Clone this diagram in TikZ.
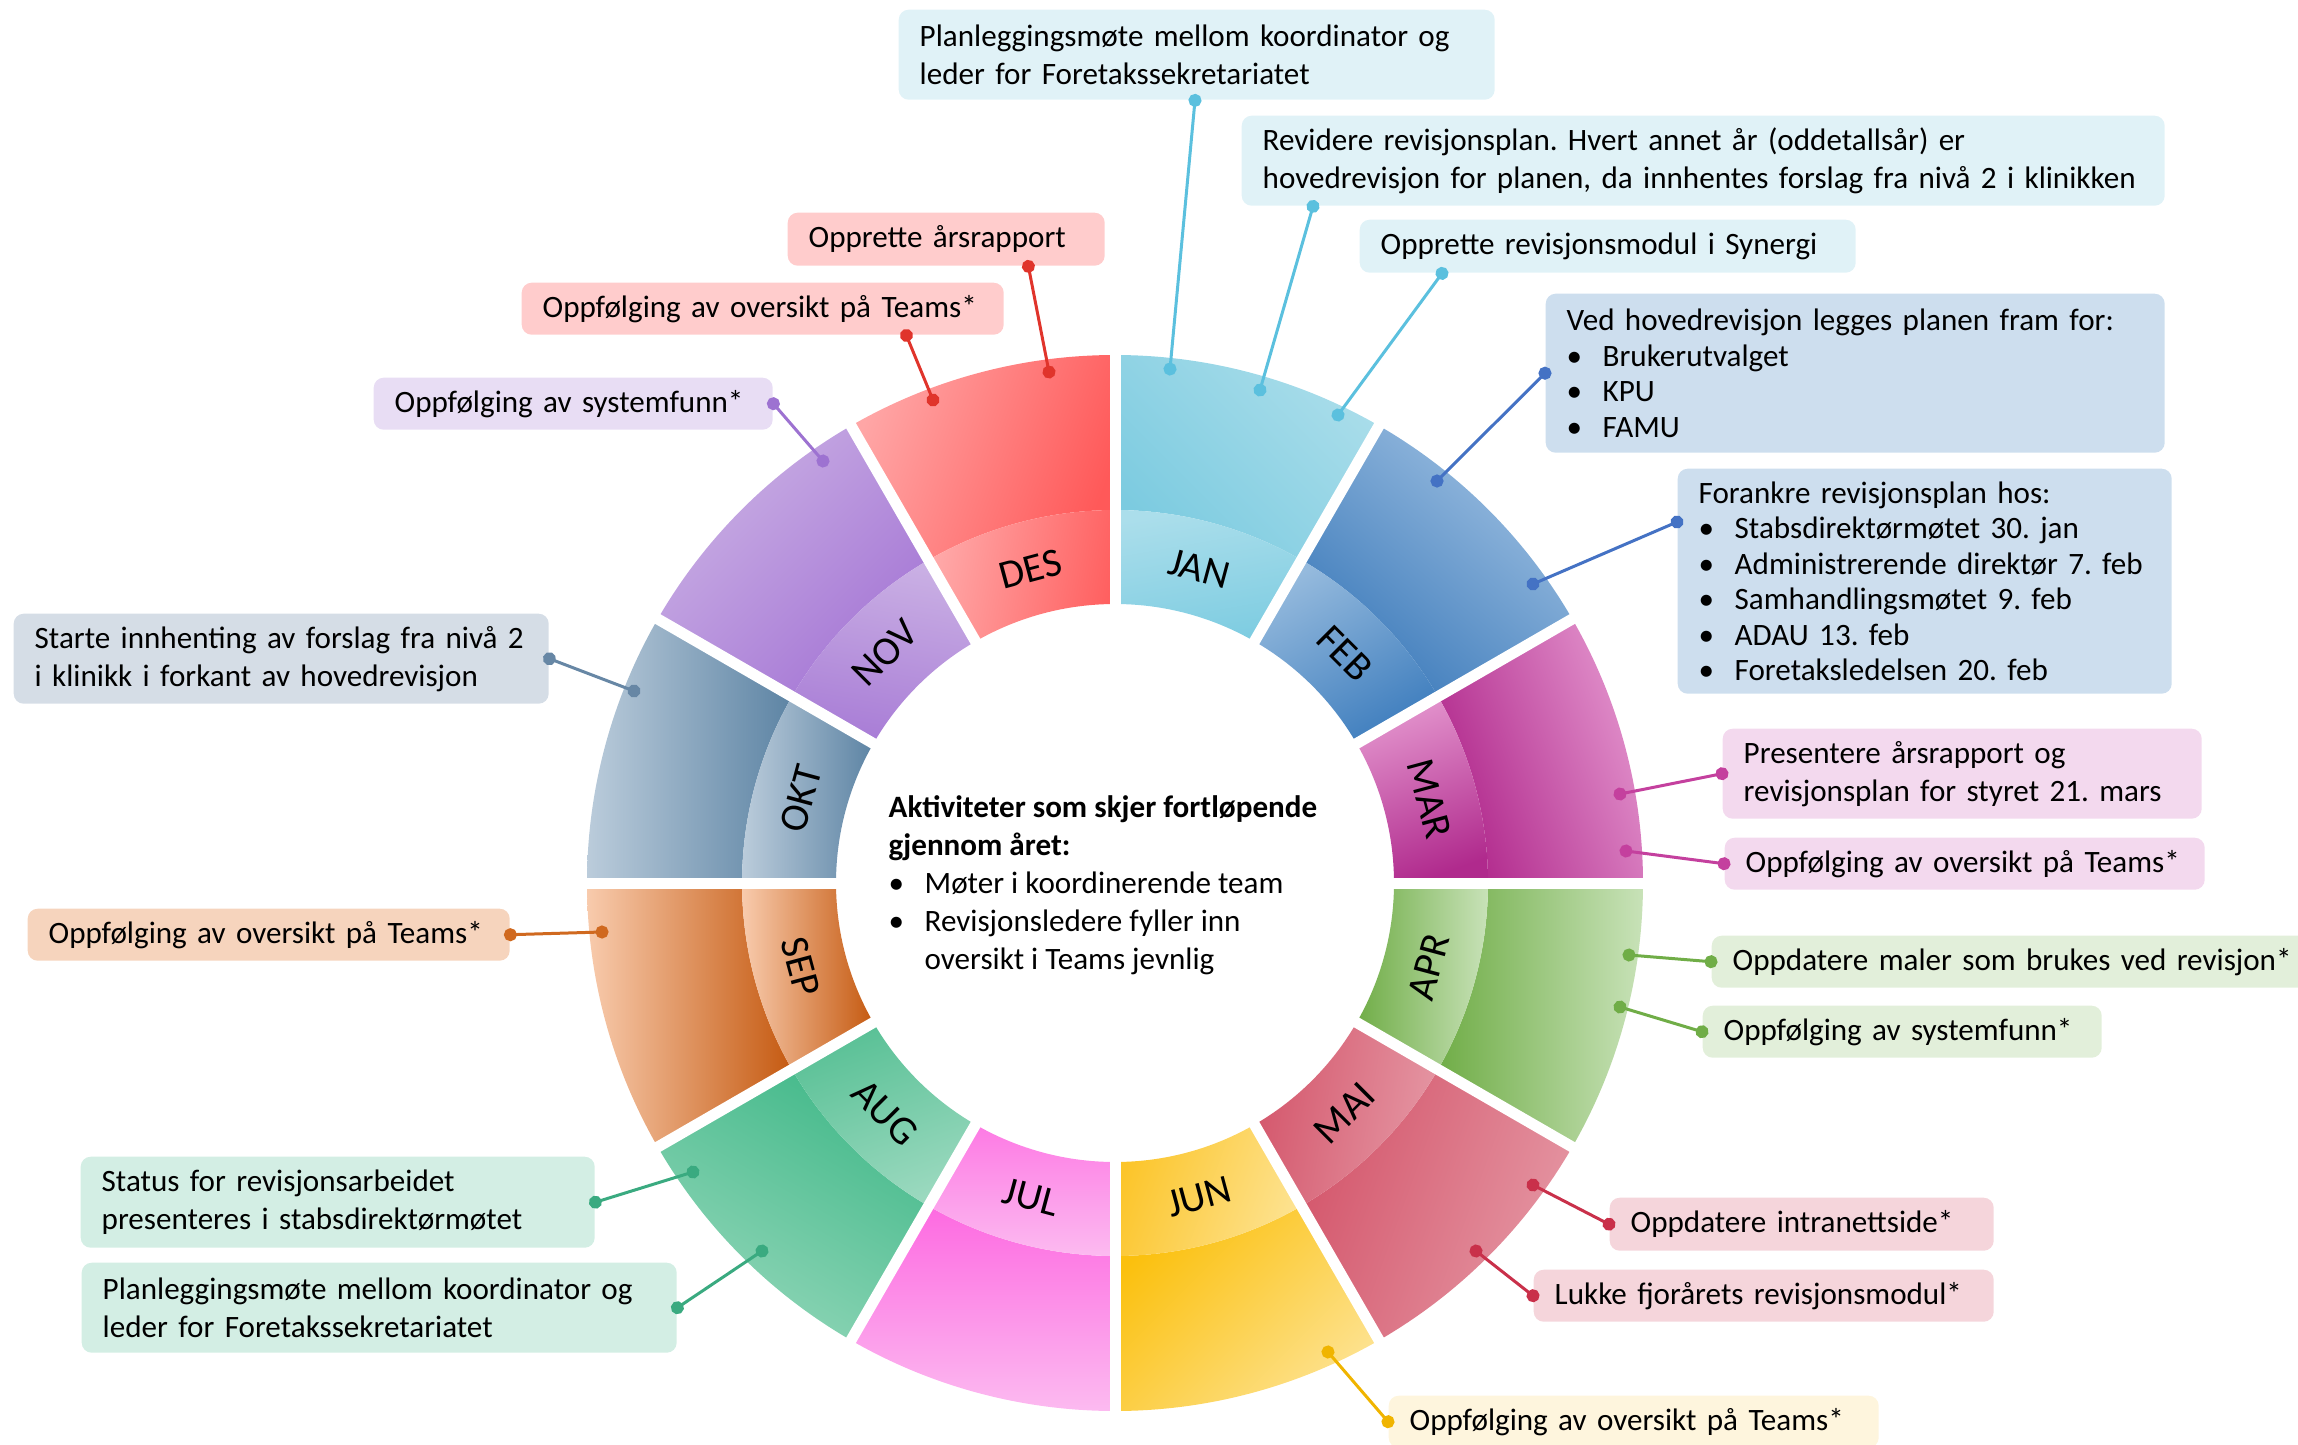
\documentclass[tikz,border=0pt]{standalone}
\usepackage{fontspec}
\setmainfont{Carlito}
\usetikzlibrary{arrows.meta}

% segment colours: outer light/dark, inner light/dark
\definecolor{JAN-ol}{HTML}{A9DDEA}\definecolor{JAN-od}{HTML}{7CCBE0}\definecolor{JAN-il}{HTML}{ABDEEB}\definecolor{JAN-id}{HTML}{7DCCE1}
\definecolor{FEB-ol}{HTML}{9DBFE1}\definecolor{FEB-od}{HTML}{3D7BBB}\definecolor{FEB-il}{HTML}{95BADD}\definecolor{FEB-id}{HTML}{3F7EBE}
\definecolor{MAR-ol}{HTML}{E394CD}\definecolor{MAR-od}{HTML}{AF258A}\definecolor{MAR-il}{HTML}{E394CD}\definecolor{MAR-id}{HTML}{B02A8D}
\definecolor{APR-ol}{HTML}{C8E2B8}\definecolor{APR-od}{HTML}{70AD47}\definecolor{APR-il}{HTML}{C8E2B8}\definecolor{APR-id}{HTML}{70AD47}
\definecolor{MAI-ol}{HTML}{E597A4}\definecolor{MAI-od}{HTML}{D4576C}\definecolor{MAI-il}{HTML}{E597A4}\definecolor{MAI-id}{HTML}{D4576C}
\definecolor{JUN-ol}{HTML}{FDE28F}\definecolor{JUN-od}{HTML}{FBC00D}\definecolor{JUN-il}{HTML}{FDE28F}\definecolor{JUN-id}{HTML}{FCC52A}
\definecolor{JUL-ol}{HTML}{FCBAF0}\definecolor{JUL-od}{HTML}{FD6AE1}\definecolor{JUL-il}{HTML}{FCBAF0}\definecolor{JUL-id}{HTML}{FD7AE4}
\definecolor{AUG-ol}{HTML}{91D6B8}\definecolor{AUG-od}{HTML}{43B98A}\definecolor{AUG-il}{HTML}{9BD9BF}\definecolor{AUG-id}{HTML}{58C095}
\definecolor{SEP-ol}{HTML}{F8CBAD}\definecolor{SEP-od}{HTML}{C55A11}\definecolor{SEP-il}{HTML}{F8CBAD}\definecolor{SEP-id}{HTML}{C55A11}
\definecolor{OKT-ol}{HTML}{BBCCDB}\definecolor{OKT-od}{HTML}{5D84A4}\definecolor{OKT-il}{HTML}{BBCCDB}\definecolor{OKT-id}{HTML}{5D84A4}
\definecolor{NOV-ol}{HTML}{CAB0E4}\definecolor{NOV-od}{HTML}{A576D5}\definecolor{NOV-il}{HTML}{CAB0E4}\definecolor{NOV-id}{HTML}{A87CD6}
\definecolor{DES-ol}{HTML}{FFA6A6}\definecolor{DES-od}{HTML}{FF5959}\definecolor{DES-il}{HTML}{FFA9A9}\definecolor{DES-id}{HTML}{FF6060}
% box fills and leader lines
\definecolor{janbox}{HTML}{E0F2F7}\definecolor{janline}{HTML}{5BC0DE}
\definecolor{febbox}{HTML}{CDDEEE}\definecolor{febline}{HTML}{4472C4}
\definecolor{marbox}{HTML}{F3D9EE}\definecolor{marline}{HTML}{C4409E}
\definecolor{aprbox}{HTML}{E2EFDA}\definecolor{aprline}{HTML}{70AD47}
\definecolor{maibox}{HTML}{F5D5DB}\definecolor{mailine}{HTML}{C9304A}
\definecolor{junbox}{HTML}{FEF5DD}\definecolor{junline}{HTML}{F0B400}
\definecolor{augbox}{HTML}{D3EEE4}\definecolor{augline}{HTML}{3AAA80}
\definecolor{sepbox}{HTML}{F6D4BD}\definecolor{sepline}{HTML}{D0691F}
\definecolor{oktbox}{HTML}{D5DDE6}\definecolor{oktline}{HTML}{6787A5}
\definecolor{novbox}{HTML}{E8DDF4}\definecolor{novline}{HTML}{9D72D1}
\definecolor{desbox}{HTML}{FFCCCC}\definecolor{desline}{HTML}{E0342B}

\newcommand\bul{\makebox[3.6mm][l]{\textbullet}}

\begin{document}
\frenchspacing
\begin{tikzpicture}[x=0.1mm, y=-0.1mm,
  note/.style={anchor=north west, rounded corners=1mm, inner xsep=2.1mm, inner ysep=0.5mm,
    align=left, font=\fontsize{8.85}{10.8}\selectfont},
  listnote/.style={note, font=\fontsize{8.85}{10.1}\selectfont},
  leader/.style={draw=#1, line width=0.3mm, {Circle[length=1.3mm]}-{Circle[length=1.3mm]},
    shorten <=-0.65mm, shorten >=-0.65mm},
  month/.style={font=\fontsize{11.5}{13}\selectfont}]
\useasboundingbox (0,0) rectangle (2298,1445);

% The wheel: twelve months, outer and inner band
\begin{scope}[shift={(1115,883)}]
\foreach \lab/\i/\oa/\ia in {JAN/0/-45/10, FEB/1/-40/30, MAR/2/-70/20, APR/3/-90/-90,
    MAI/4/-110/-100, JUN/5/-135/-110, JUL/6/-180/-180, AUG/7/150/-160,
    SEP/8/90/90, OKT/9/90/90, NOV/10/45/-10, DES/11/70/80}{
  \pgfmathsetmacro\s{90-30*\i}
  \pgfmathsetmacro\e{60-30*\i}
  \pgfmathsetmacro\m{75-30*\i}
  \pgfmathsetmacro\r{sin(\m)>0 ? \m-90 : \m+90}
  \shade[top color=\lab-ol, bottom color=\lab-od, shading angle=\oa]
    (\s:37.3mm) arc[start angle=\s, end angle=\e, radius=37.3mm]
    -- (\e:52.8mm) arc[start angle=\e, end angle=\s, radius=52.8mm] -- cycle;
  \shade[top color=\lab-il, bottom color=\lab-id, shading angle=\ia]
    (\s:27.9mm) arc[start angle=\s, end angle=\e, radius=27.9mm]
    -- (\e:37.3mm) arc[start angle=\e, end angle=\s, radius=37.3mm] -- cycle;
  \node[month, rotate=\r] (m\i) at (\m:32.5mm) {\lab};
}
% white gaps between the months
\foreach \a in {0,30,...,330}
  \draw[white, line width=1.1mm] (0,0) -- (\a:54mm);
\end{scope}

% Text in the middle
\node[anchor=north west, inner sep=0pt, align=left, font=\fontsize{8.85}{10.8}\selectfont] (yeartext) at (888,795)
  {\textbf{Aktiviteter som skjer fortløpende}\\ \textbf{gjennom året:}\\
   \bul Møter i koordinerende team\\ \bul Revisjonsledere fyller inn\\ \hspace*{3.6mm}oversikt i Teams jevnlig};

% Points on the wheel
\coordinate (jan1) at (1170,369); \coordinate (jan2) at (1260,390); \coordinate (jan3) at (1338,415);
\coordinate (feb1) at (1437,481); \coordinate (feb2) at (1533,584);
\coordinate (mar1) at (1620,794); \coordinate (mar2) at (1626,851);
\coordinate (apr1) at (1629,955); \coordinate (apr2) at (1620,1007);
\coordinate (mai1) at (1533,1185); \coordinate (mai2) at (1476,1251);
\coordinate (jun1) at (1328,1352);
\coordinate (aug1) at (693,1172); \coordinate (aug2) at (762,1251);
\coordinate (sep1) at (602,932);
\coordinate (okt1) at (634,691);
\coordinate (nov1) at (823,461);
\coordinate (des1) at (1049,372); \coordinate (des2) at (933,400);

% Boxes, January to June
\node[note, fill=janbox, text width=55.4mm, minimum height=9mm] (jana) at (898,9)
  {Planleggingsmøte mellom koordinator og\\ leder for Foretakssekretariatet};
\node[note, fill=janbox, text width=88.1mm, minimum height=9mm] (janb) at (1241,115)
  {Revidere revisjonsplan. Hvert annet år (oddetallsår) er\\ hovedrevisjon for planen, da innhentes forslag fra nivå 2 i klinikken};
\node[note, fill=janbox, text width=45.4mm, minimum height=5.3mm] (janc) at (1359,219)
  {Opprette revisjonsmodul i Synergi};
\node[listnote, fill=febbox, text width=57.7mm, minimum height=15.9mm] (feba) at (1545,293)
  {Ved hovedrevisjon legges planen fram for:\\ \bul Brukerutvalget\\ \bul KPU\\ \bul FAMU};
\node[listnote, fill=febbox, text width=45.2mm, minimum height=22.5mm] (febb) at (1677,468)
  {Forankre revisjonsplan hos:\\ \bul Stabsdirektørmøtet 30. jan\\ \bul Administrerende direktør 7. feb\\
   \bul Samhandlingsmøtet 9. feb\\ \bul ADAU 13. feb\\ \bul Foretaksledelsen 20. feb};
\node[note, fill=marbox, text width=43.7mm, minimum height=9mm] (mara) at (1722,728)
  {Presentere årsrapport og\\ revisjonsplan for styret 21. mars};
\node[note, fill=marbox, text width=43.8mm, minimum height=5.2mm] (marb) at (1724,837)
  {Oppfølging av oversikt på Teams*};
\node[note, fill=aprbox, text width=57.7mm, minimum height=5.2mm] (apra) at (1711,935)
  {Oppdatere maler som brukes ved revisjon*};
\node[note, fill=aprbox, text width=35.7mm, minimum height=5.2mm] (aprb) at (1702,1005)
  {Oppfølging av systemfunn*};
\node[note, fill=maibox, text width=34.2mm, minimum height=5.3mm] (maia) at (1609,1197)
  {Oppdatere intranettside*};
\node[note, fill=maibox, text width=41.8mm, minimum height=5.2mm] (maib) at (1533,1269)
  {Lukke fjorårets revisjonsmodul*};
\node[note, fill=junbox, text width=44.8mm, minimum height=5.2mm] (juna) at (1388,1395)
  {Oppfølging av oversikt på Teams*};

% Boxes, August to December
\node[note, fill=augbox, text width=47.2mm, minimum height=9.1mm] (auga) at (80,1156)
  {Status for revisjonsarbeidet\\ presenteres i stabsdirektørmøtet};
\node[note, fill=augbox, text width=55.3mm, minimum height=9mm] (augb) at (81,1262)
  {Planleggingsmøte mellom koordinator og\\ leder for Foretakssekretariatet};
\node[note, fill=sepbox, text width=44mm, minimum height=5.2mm] (sepa) at (27,908)
  {Oppfølging av oversikt på Teams*};
\node[note, fill=oktbox, text width=49.3mm, minimum height=9mm] (okta) at (13,613)
  {Starte innhenting av forslag fra nivå 2\\ i klinikk i forkant av hovedrevisjon};
\node[note, fill=novbox, text width=35.7mm, minimum height=5.2mm] (nova) at (373,377)
  {Oppfølging av systemfunn*};
\node[note, fill=desbox, text width=27.5mm, minimum height=5.3mm] (desa) at (787,212)
  {Opprette årsrapport};
\node[note, fill=desbox, text width=44mm, minimum height=5.2mm] (desb) at (521,282)
  {Oppfølging av oversikt på Teams*};

% Leader lines from the boxes to the wheel
\draw[leader=janline] ([xshift=29.7mm]jana.south west) -- (jan1);
\draw[leader=janline] ([xshift=7.2mm]janb.south west) -- (jan2);
\draw[leader=janline] ([xshift=8.3mm]janc.south west) -- (jan3);
\draw[leader=febline] (feba.west) -- (feb1);
\draw[leader=febline] ([yshift=-5.4mm]febb.north west) -- (feb2);
\draw[leader=marline] (mara.west) -- (mar1);
\draw[leader=marline] (marb.west) -- (mar2);
\draw[leader=aprline] (apra.west) -- (apr1);
\draw[leader=aprline] (aprb.west) -- (apr2);
\draw[leader=mailine] (maia.west) -- (mai1);
\draw[leader=mailine] (maib.west) -- (mai2);
\draw[leader=junline] (juna.west) -- (jun1);
\draw[leader=augline] (auga.east) -- (aug1);
\draw[leader=augline] (augb.east) -- (aug2);
\draw[leader=sepline] (sepa.east) -- (sep1);
\draw[leader=oktline] (okta.east) -- (okt1);
\draw[leader=novline] (nova.east) -- (nov1);
\draw[leader=desline] ([xshift=-7.7mm]desa.south east) -- (des1);
\draw[leader=desline] ([xshift=-9.8mm]desb.south east) -- (des2);
\end{tikzpicture}
\end{document}
